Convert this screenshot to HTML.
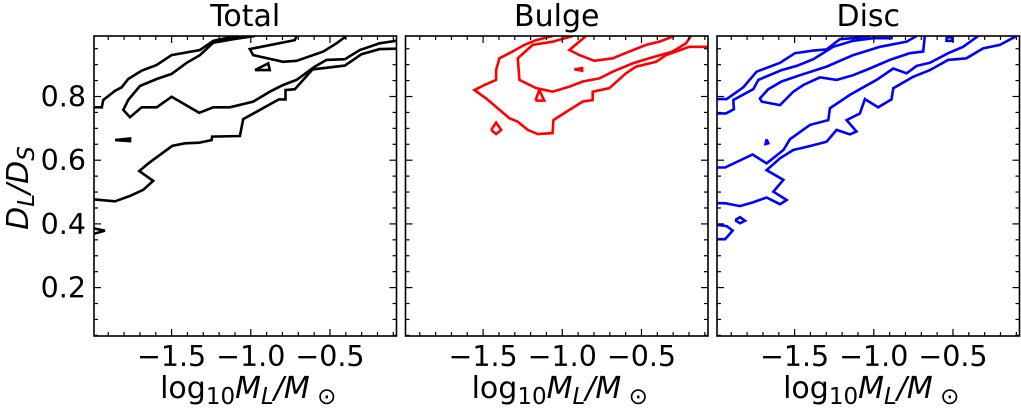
<!DOCTYPE html>
<html><head><meta charset="utf-8"><style>
body{margin:0;background:#fff;}
svg{display:block;font-family:"DejaVu Sans","Liberation Sans",sans-serif;}
</style></head><body>
<svg id="chart" width="1021" height="411" viewBox="0 0 1021 411" xmlns="http://www.w3.org/2000/svg"></svg>
<script>
const panelTitles = ["Total","Bulge","Disc"];
const panelColors = ["#000000","#ff0000","#0000ff"];
const xTicks = [-1.5,-1.0,-0.5];
const xTickLabels = ["\u22121.5","\u22121.0","\u22120.5"];
const yTicks = [0.2,0.4,0.6,0.8];
const yTickLabels = ["0.2","0.4","0.6","0.8"];
const xDomain = [-1.99,-0.08];
const yDomain = [0.048,0.99];

const totalContours = [
 [[-1.99,0.477],[-1.857,0.471],[-1.763,0.488],[-1.679,0.507],[-1.616,0.535],[-1.704,0.566],[-1.647,0.590],[-1.496,0.645],[-1.416,0.653],[-1.326,0.655],[-1.247,0.663],[-1.244,0.674],[-1.069,0.676],[-1.048,0.729],[-0.964,0.752],[-0.823,0.791],[-0.781,0.791],[-0.781,0.820],[-0.722,0.823],[-0.610,0.885],[-0.406,0.897],[-0.301,0.933],[-0.186,0.949],[-0.08,0.950]],
 [[-0.974,0.99],[-1.111,0.980],[-1.237,0.969],[-1.321,0.930],[-1.405,0.906],[-1.500,0.871],[-1.594,0.855],[-1.700,0.833],[-1.774,0.789],[-1.805,0.758],[-1.763,0.735],[-1.689,0.766],[-1.594,0.766],[-1.500,0.799],[-1.326,0.749],[-1.237,0.766],[-1.132,0.766],[-0.985,0.784],[-0.880,0.815],[-0.796,0.836],[-0.711,0.852],[-0.596,0.894],[-0.522,0.915],[-0.406,0.917],[-0.312,0.946],[-0.186,0.967],[-0.08,0.975]],
 [[-1.99,0.766],[-1.941,0.766],[-1.931,0.789],[-1.858,0.818],[-1.815,0.829],[-1.774,0.855],[-1.689,0.881],[-1.594,0.899],[-1.500,0.930],[-1.321,0.946],[-1.237,0.975],[-1.132,0.986],[-1.069,0.99]],
 [[-0.711,0.99],[-0.722,0.977],[-1.006,0.949],[-0.985,0.930],[-0.796,0.909],[-0.711,0.912],[-0.543,0.941],[-0.459,0.967],[-0.396,0.99]],
 [[-0.974,0.883],[-0.890,0.904],[-0.880,0.883],[-0.974,0.883]],
 [[-1.857,0.663],[-1.763,0.668],[-1.763,0.660],[-1.857,0.663]],
 [[-1.99,0.386],[-1.921,0.379],[-1.99,0.369]]
];
const bulgeContours = [
 [[-1.061,0.99],[-1.165,0.977],[-1.239,0.962],[-1.334,0.936],[-1.397,0.920],[-1.418,0.883],[-1.418,0.852],[-1.492,0.836],[-1.555,0.820],[-1.481,0.794],[-1.408,0.763],[-1.334,0.732],[-1.281,0.721],[-1.218,0.695],[-1.155,0.682],[-1.061,0.685],[-1.056,0.726],[-0.955,0.758],[-0.871,0.784],[-0.808,0.789],[-0.808,0.815],[-0.703,0.826],[-0.598,0.873],[-0.534,0.894],[-0.408,0.909],[-0.345,0.930],[-0.198,0.956],[-0.08,0.956]],
 [[-0.934,0.99],[-1.061,0.972],[-1.187,0.962],[-1.281,0.920],[-1.271,0.852],[-1.165,0.826],[-1.061,0.815],[-0.955,0.831],[-0.871,0.847],[-0.766,0.857],[-0.682,0.878],[-0.556,0.904],[-0.451,0.920],[-0.304,0.941],[-0.219,0.967],[-0.188,0.99]],
 [[-0.850,0.99],[-0.955,0.946],[-0.892,0.930],[-0.798,0.912],[-0.682,0.920],[-0.577,0.941],[-0.471,0.962],[-0.388,0.972],[-0.293,0.99]],
 [[-1.170,0.787],[-1.145,0.820],[-1.114,0.787],[-1.170,0.787]],
 [[-0.924,0.885],[-0.875,0.889],[-0.875,0.881],[-0.924,0.885]],
 [[-1.449,0.695],[-1.418,0.718],[-1.386,0.695],[-1.418,0.682],[-1.449,0.695]]
];
const discContours = [
 [[-1.99,0.792],[-1.929,0.792],[-1.824,0.829],[-1.740,0.878],[-1.592,0.906],[-1.498,0.936],[-1.382,0.944],[-1.298,0.948],[-1.214,0.980],[-1.130,0.983],[-1.025,0.99]],
 [[-1.99,0.747],[-1.933,0.747],[-1.883,0.760],[-1.887,0.789],[-1.761,0.823],[-1.729,0.852],[-1.582,0.883],[-1.487,0.896],[-1.382,0.917],[-1.256,0.956],[-1.130,0.975],[-1.004,0.983],[-0.888,0.983],[-0.888,0.99]],
 [[-0.678,0.99],[-0.688,0.941],[-0.772,0.936],[-0.898,0.915],[-1.025,0.888],[-1.130,0.867],[-1.235,0.852],[-1.340,0.860],[-1.445,0.836],[-1.508,0.815],[-1.592,0.773],[-1.708,0.784],[-1.719,0.794],[-1.666,0.823],[-1.582,0.847],[-1.466,0.867],[-1.298,0.894],[-1.130,0.930],[-0.961,0.956],[-0.793,0.972],[-0.730,0.99]],
 [[-0.341,0.99],[-0.436,0.956],[-0.530,0.936],[-0.646,0.906],[-0.730,0.896],[-0.793,0.873],[-0.877,0.888],[-0.982,0.852],[-1.067,0.829],[-1.151,0.805],[-1.277,0.763],[-1.287,0.726],[-1.403,0.711],[-1.529,0.666],[-1.571,0.632],[-1.677,0.590],[-1.765,0.618],[-1.939,0.577],[-1.99,0.577]],
 [[-0.099,0.99],[-0.204,0.962],[-0.310,0.951],[-0.415,0.920],[-0.530,0.915],[-0.646,0.883],[-0.751,0.862],[-0.877,0.826],[-0.888,0.791],[-0.972,0.766],[-1.056,0.792],[-1.088,0.747],[-1.172,0.726],[-1.109,0.690],[-1.151,0.681],[-1.235,0.695],[-1.298,0.658],[-1.414,0.643],[-1.508,0.632],[-1.592,0.606],[-1.677,0.569],[-1.571,0.538],[-1.634,0.501],[-1.550,0.475],[-1.592,0.462],[-1.677,0.483],[-1.761,0.468],[-1.845,0.456],[-1.939,0.465],[-1.99,0.465]],
 [[-1.677,0.666],[-1.666,0.653],[-1.683,0.651],[-1.677,0.666]],
 [[-1.876,0.412],[-1.845,0.421],[-1.813,0.410],[-1.845,0.402],[-1.876,0.412]],
 [[-1.99,0.397],[-1.929,0.393],[-1.891,0.379],[-1.939,0.352],[-1.99,0.352]],
 [[-0.541,0.986],[-0.503,0.986],[-0.503,0.975],[-0.541,0.975],[-0.541,0.986]]
];
const allContours = [totalContours, bulgeContours, discContours];

const NS = "http://www.w3.org/2000/svg";
const svg = document.getElementById("chart");
const panelLefts = [94, 405.5, 717];
const PW = 302.5, PT = 36, PB = 336;
function mk(tag, attrs, parent){const e=document.createElementNS(NS,tag);for(const k in attrs)e.setAttribute(k,attrs[k]);(parent||svg).appendChild(e);return e;}

panelTitles.forEach((title, p) => {
  const L = panelLefts[p], R = L + PW;
  const sx = v => L + (v - xDomain[0]) / (xDomain[1] - xDomain[0]) * PW;
  const sy = v => PB - (v - yDomain[0]) / (yDomain[1] - yDomain[0]) * (PB - PT);
  const g = mk("g", {});
  
  
  const clipId = "clip" + p;
  const cp = mk("clipPath", {id: clipId}, g);
  mk("rect", {x: L, y: PT, width: PW, height: PB - PT}, cp);
  const cg = mk("g", {"clip-path": "url(#" + clipId + ")"}, g);
  allContours[p].forEach((c, i) => {
    const pl = mk("polyline", {points: c.map(q => sx(q[0]).toFixed(1) + "," + sy(q[1]).toFixed(1)).join(" "), fill: "none", stroke: panelColors[p], "stroke-width": 2.6, "stroke-linejoin": "miter"}, cg);
    
    
  });
  for (let v = -1.9; v <= -0.1 + 1e-9; v += 0.1) {
    const x = sx(v);
    const major = xTicks.some(t => Math.abs(t - v) < 1e-6);
    const len = major ? 7 : 4;
    mk("line", {x1: x, y1: PB, x2: x, y2: PB - len, stroke: "#000", "stroke-width": 1.2}, g);
    mk("line", {x1: x, y1: PT, x2: x, y2: PT + len, stroke: "#000", "stroke-width": 1.2}, g);
  }
  for (let v = 0.05; v <= 0.99; v += 0.05) {
    const y = sy(v);
    const major = yTicks.some(t => Math.abs(t - v) < 1e-6);
    const len = major ? 7 : 4;
    mk("line", {x1: L, y1: y, x2: L + len, y2: y, stroke: "#000", "stroke-width": 1.2}, g);
    mk("line", {x1: R, y1: y, x2: R - len, y2: y, stroke: "#000", "stroke-width": 1.2}, g);
  }
  const fr = mk("rect", {x: L, y: PT, width: PW, height: PB - PT, fill: "none", stroke: "#000", "stroke-width": 1.6}, g);
  
  
  xTicks.forEach((t, i) => {
    const tx = mk("text", {x: sx(t), y: 366, "text-anchor": "middle", "font-size": 28.5}, g);
    tx.textContent = xTickLabels[i];
    
    
  });
  if (p === 0) {
    yTicks.forEach((t, i) => {
      const ty = mk("text", {x: 86, y: sy(t) + 10, "text-anchor": "end", "font-size": 28.5}, g);
      ty.textContent = yTickLabels[i];
      
      
    });
  }
  const tt = mk("text", {x: L + PW / 2, y: 26, "text-anchor": "middle", "font-size": 30}, g);
  tt.textContent = title;
  
  
  const xl = mk("text", {x: L + PW / 2 + 3, y: 398, "text-anchor": "middle", "font-size": 30}, g);
  xl.innerHTML = 'log<tspan font-size="23" dy="6">10</tspan><tspan dy="-6" font-style="italic">M</tspan><tspan font-size="23" dy="6" font-style="italic">L</tspan><tspan dy="-6" font-style="italic">/M</tspan><tspan font-size="23" dy="6"> \u2299</tspan>';
  
  
});
const yl = mk("text", {x: 0, y: 0, "text-anchor": "middle", "font-size": 30, transform: "translate(28,188) rotate(-90)"});
yl.innerHTML = '<tspan font-style="italic">D</tspan><tspan font-size="23" dy="6" font-style="italic">L</tspan><tspan dy="-6" font-style="italic">/D</tspan><tspan font-size="23" dy="6" font-style="italic">S</tspan>';


</script>
</body></html>
